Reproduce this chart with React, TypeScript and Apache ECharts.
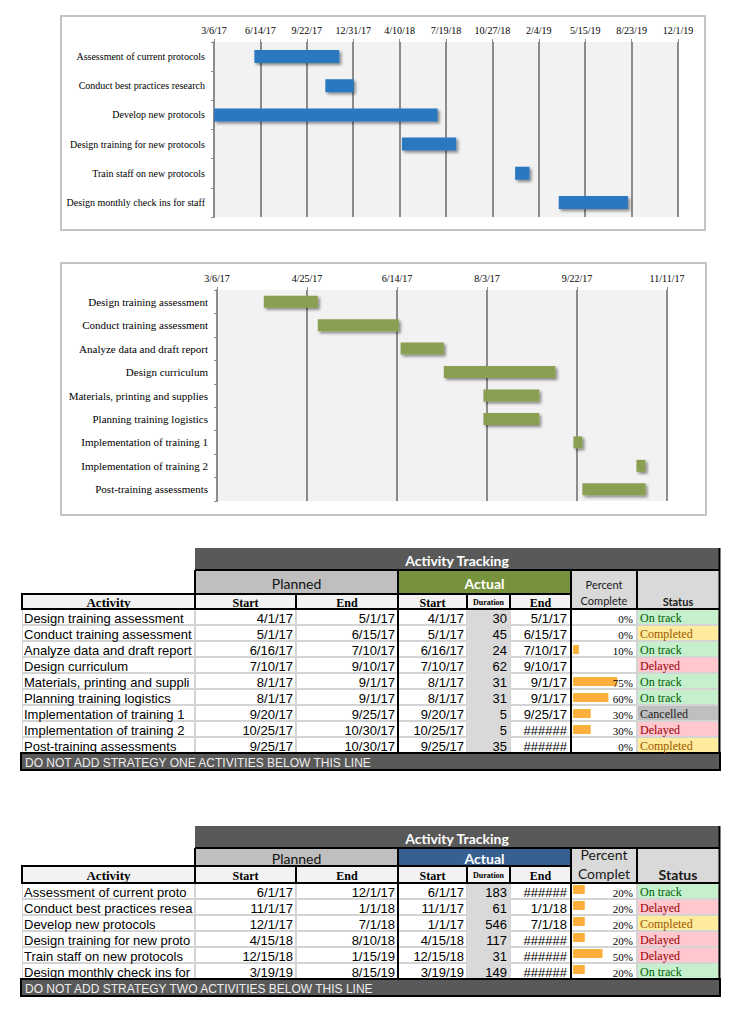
import React, { useEffect, useRef } from "react";
import * as echarts from "echarts";

// ---------- Strategy one (green chart, first table) ----------
const s1Activities = [
  "Design training assessment",
  "Conduct training assessment",
  "Analyze data and draft report",
  "Design curriculum",
  "Materials, printing and supplies",
  "Planning training logistics",
  "Implementation of training 1",
  "Implementation of training 2",
  "Post-training assessments",
];
const s1PlannedStart = ["4/1/17", "5/1/17", "6/16/17", "7/10/17", "8/1/17", "8/1/17", "9/20/17", "10/25/17", "9/25/17"];
const s1PlannedEnd = ["5/1/17", "6/15/17", "7/10/17", "9/10/17", "9/1/17", "9/1/17", "9/25/17", "10/30/17", "10/30/17"];
const s1ActualStart = ["4/1/17", "5/1/17", "6/16/17", "7/10/17", "8/1/17", "8/1/17", "9/20/17", "10/25/17", "9/25/17"];
const s1Duration = [30, 45, 24, 62, 31, 31, 5, 5, 35];
const s1ActualEnd = ["5/1/17", "6/15/17", "7/10/17", "9/10/17", "9/1/17", "9/1/17", "9/25/17", "######", "######"];
const s1Percent: (number | null)[] = [0, 0, 10, null, 75, 60, 30, 30, 0];
const s1Status = ["On track", "Completed", "On track", "Delayed", "On track", "On track", "Cancelled", "Delayed", "Completed"];

// ---------- Strategy two (blue chart, second table) ----------
const s2Activities = [
  "Assessment of current protocols",
  "Conduct best practices research",
  "Develop new protocols",
  "Design training for new protocols",
  "Train staff on new protocols",
  "Design monthly check ins for staff",
];
const s2PlannedStart = ["6/1/17", "11/1/17", "12/1/17", "4/15/18", "12/15/18", "3/19/19"];
const s2PlannedEnd = ["12/1/17", "1/1/18", "7/1/18", "8/10/18", "1/15/19", "8/15/19"];
const s2ActualStart = ["6/1/17", "11/1/17", "1/1/17", "4/15/18", "12/15/18", "3/19/19"];
const s2Duration = [183, 61, 546, 117, 31, 149];
const s2ActualEnd = ["######", "1/1/18", "7/1/18", "######", "######", "######"];
const s2Percent: (number | null)[] = [20, 20, 20, 20, 50, 20];
const s2Status = ["On track", "Delayed", "Completed", "Delayed", "Delayed", "On track"];

// axis ranges (Excel date serials)
const chart1Min = 42800; // 3/6/17
const chart1Max = 43800; // 12/1/19
const chart1Interval = 100;
const chart2Min = 42800; // 3/6/17
const chart2Max = 43050; // 11/11/17
const chart2Interval = 50;

const EPOCH = Date.UTC(1899, 11, 30);
const toSerial = (s: string) => {
  const [m, d, y] = s.split("/").map(Number);
  return (Date.UTC(2000 + y, m - 1, d) - EPOCH) / 86400000;
};
const fmtSerial = (v: number) => {
  const dt = new Date(EPOCH + Math.round(v) * 86400000);
  return `${dt.getUTCMonth() + 1}/${dt.getUTCDate()}/${dt.getUTCFullYear() % 100}`;
};

const STATUS_STYLE: Record<string, { bg: string; fg: string }> = {
  "On track": { bg: "#c6efce", fg: "#006100" },
  Completed: { bg: "#ffeb9c", fg: "#9c5700" },
  Delayed: { bg: "#ffc7ce", fg: "#9c0006" },
  Cancelled: { bg: "#bfbfbf", fg: "#1a1a1a" },
};

const COLS = [22, 195, 296, 398, 467, 510, 571, 637, 719];
const SANS = "Liberation Sans";
const SERIF = "Liberation Serif";
const HEAD = "Lato";

const R = (x: number, y: number, w: number, h: number, fill: string, stroke?: string, lw?: number, z = 1) => ({
  type: "rect",
  z,
  shape: { x, y, width: w, height: h },
  style: { fill, stroke: stroke || null, lineWidth: lw || 0 },
  silent: true,
});
const L = (x1: number, y1: number, x2: number, y2: number, color: string, w: number, z = 5) => ({
  type: "line",
  z,
  shape: { x1, y1, x2, y2 },
  style: { stroke: color, lineWidth: w },
  silent: true,
});
const T = (x: number, y: number, text: string, o: any = {}) => ({
  type: "text",
  z: 10,
  x,
  y,
  style: {
    text,
    fill: o.fill || "#000",
    fontSize: o.size || 12,
    fontFamily: o.family || SANS,
    fontWeight: o.weight || "normal",
    align: o.align || "left",
    verticalAlign: "middle",
    ...(o.width ? { width: o.width, overflow: "truncate", ellipsis: "" } : {}),
  },
  silent: true,
});

type TableSpec = {
  top: number;
  bandH: number;
  row2H: number;
  headH: number;
  rowH: number;
  footH: number;
  actualColor: string;
  names: string[];
  pStart: string[];
  pEnd: string[];
  aStart: string[];
  dur: number[];
  aEnd: string[];
  pct: (number | null)[];
  status: string[];
  footer: string;
  pctLines: [string, string];
  pctSize: number;
  pctY: [number, number];
  statusSize: number;
  barOffset: number;
};

function buildTable(t: TableSpec) {
  const els: any[] = [];
  const yBand = t.top;
  const yRow2 = yBand + t.bandH;
  const yHead = yRow2 + t.row2H;
  const yData = yHead + t.headH;
  const n = t.names.length;
  const yFoot = yData + n * t.rowH;

  // top band
  els.push(R(195, yBand, 525, t.bandH, "#595959"));
  els.push(T(457, yBand + t.bandH / 2 + 1, "Activity Tracking", { fill: "#fff", size: 14, family: HEAD, weight: "bold", align: "center" }));
  // planned / actual
  els.push(R(195, yRow2, 203, t.row2H, "#bfbfbf"));
  els.push(T(296.5, yRow2 + t.row2H / 2 + 1, "Planned", { fill: "#111", size: 14, family: HEAD, align: "center" }));
  els.push(R(398, yRow2, 173, t.row2H, t.actualColor));
  els.push(T(484.5, yRow2 + t.row2H / 2 + 1, "Actual", { fill: "#fff", size: 14, family: HEAD, weight: "bold", align: "center" }));
  // percent complete & status headers
  els.push(R(571, yRow2, 66, t.row2H + t.headH, "#d9d9d9"));
  els.push(T(604, t.pctY[0], t.pctLines[0], { fill: "#1a1a1a", size: t.pctSize, family: HEAD, align: "center" }));
  els.push(T(604, t.pctY[1], t.pctLines[1], { fill: "#1a1a1a", size: t.pctSize, family: HEAD, align: "center" }));
  els.push(R(637, yRow2, 82, t.row2H + t.headH, "#d9d9d9"));
  els.push(T(678, yHead + t.headH / 2, "Status", { fill: "#1a1a1a", size: t.statusSize, family: HEAD, weight: "bold", align: "center" }));

  // header row
  const headLabels = ["Activity", "Start", "End", "Start", "Duration", "End"];
  const headSizes = [13, 12, 12, 12, 8, 12];
  for (let c = 0; c < 6; c++) {
    els.push(R(COLS[c], yHead, COLS[c + 1] - COLS[c], t.headH, "#f2f2f2", "#000", 2, 2));
    els.push(
      T((COLS[c] + COLS[c + 1]) / 2, yHead + t.headH / 2 + 1, headLabels[c], {
        size: headSizes[c],
        family: SERIF,
        weight: "bold",
        align: "center",
      })
    );
  }

  // data rows
  els.push(R(22, yData, 697, n * t.rowH, "#d4d4d4"));
  for (let r = 0; r < n; r++) {
    const y0 = yData + r * t.rowH;
    const mid = y0 + t.rowH / 2 + 1;
    const st = STATUS_STYLE[t.status[r]];
    for (let c = 0; c < 8; c++) {
      const w = COLS[c + 1] - COLS[c];
      let fill = "#ffffff";
      if (c === 4) fill = "#d9d9d9";
      if (c === 7) fill = st.bg;
      if (c === 4) els.push(R(COLS[c], y0, w, t.rowH, fill));
      else els.push(R(COLS[c] + 1, y0 + 1, w - 2, t.rowH - 2, fill));
    }
    els.push(T(24, mid, t.names[r], { size: 13, width: 170 }));
    els.push(T(293, mid, t.pStart[r], { size: 13, align: "right" }));
    els.push(T(395, mid, t.pEnd[r], { size: 13, align: "right" }));
    els.push(T(464, mid, t.aStart[r], { size: 13, align: "right" }));
    els.push(T(507, mid, String(t.dur[r]), { size: 13, align: "right" }));
    els.push(T(567, mid, t.aEnd[r], { size: 13, align: "right" }));
    const p = t.pct[r];
    if (p !== null) {
      if (p > 0) els.push(R(573, y0 + t.barOffset, p * 0.59, 9, "#fbb03b", undefined, 0, 3));
      els.push(T(633, mid + 1, `${p}%`, { size: 11, family: SERIF, align: "right" }));
    }
    els.push(T(640, mid, t.status[r], { size: 12, family: SERIF, fill: st.fg }));
  }

  // black rules
  els.push(L(195, yRow2, 719, yRow2, "#000", 2));
  els.push(L(195, yRow2, 195, yHead, "#000", 2));
  els.push(L(22, yData, 719, yData, "#000", 2));
  els.push(L(398, yRow2, 398, yFoot, "#000", 2));
  els.push(L(571, yRow2, 571, yFoot, "#000", 2));
  els.push(L(637, yRow2, 637, yData, "#000", 2));
  els.push(L(719.5, yBand, 719.5, yFoot, "#000", 2));

  // footer
  els.push(R(21, yFoot, 699, t.footH, "#595959", "#000", 2, 6));
  els.push(T(25, yFoot + t.footH / 2 + 1, t.footer, { fill: "#eeeeee", size: 12 }));
  return els;
}

function frame(x: number, y: number, w: number, h: number) {
  return { type: "rect", z: 0, shape: { x, y, width: w, height: h }, style: { fill: "none", stroke: "#c4c4c4", lineWidth: 2 }, silent: true };
}

export default function App() {
  const ref = useRef<HTMLDivElement>(null);
  useEffect(() => {
    if (!ref.current) return;
    const chart = echarts.init(ref.current, undefined, { renderer: "svg" });
    const gridLine = { color: "#8c8c8c", width: 2 };
    const xLabel = { formatter: (v: number) => fmtSerial(v), fontFamily: SERIF, fontSize: 10, color: "#000", margin: 7 };
    const shadow = { shadowColor: "rgba(0,0,0,0.45)", shadowBlur: 3, shadowOffsetX: 2, shadowOffsetY: 2 };

    const table1 = buildTable({
      top: 548,
      bandH: 22,
      row2H: 24,
      headH: 15,
      rowH: 16,
      footH: 17,
      actualColor: "#76923c",
      names: s1Activities,
      pStart: s1PlannedStart,
      pEnd: s1PlannedEnd,
      aStart: s1ActualStart,
      dur: s1Duration,
      aEnd: s1ActualEnd,
      pct: s1Percent,
      status: s1Status,
      footer: "DO NOT ADD STRATEGY ONE ACTIVITIES BELOW THIS LINE",
      pctLines: ["Percent", "Complete"],
      pctSize: 11,
      pctY: [584, 600],
      statusSize: 11,
      barOffset: 4,
    });
    const table2 = buildTable({
      top: 826,
      bandH: 22,
      row2H: 18,
      headH: 17,
      rowH: 16,
      footH: 17,
      actualColor: "#376092",
      names: s2Activities,
      pStart: s2PlannedStart,
      pEnd: s2PlannedEnd,
      aStart: s2ActualStart,
      dur: s2Duration,
      aEnd: s2ActualEnd,
      pct: s2Percent,
      status: s2Status,
      footer: "DO NOT ADD STRATEGY TWO ACTIVITIES BELOW THIS LINE",
      pctLines: ["Percent", "Complet"],
      pctSize: 14,
      pctY: [854, 873],
      statusSize: 14,
      barOffset: 2,
    });

    chart.setOption({
      animation: false,
      backgroundColor: "#ffffff",
      grid: [
        { left: 214, top: 42, width: 464, height: 175, show: true, backgroundColor: "#f2f2f2", borderWidth: 0 },
        { left: 217, top: 290, width: 450, height: 211, show: true, backgroundColor: "#f2f2f2", borderWidth: 0 },
      ],
      xAxis: [
        {
          gridIndex: 0,
          type: "value",
          position: "top",
          min: chart1Min,
          max: chart1Max,
          interval: chart1Interval,
          axisLine: { show: false },
          axisTick: { show: true, length: 3, lineStyle: { color: "#8c8c8c", width: 1 } },
          axisLabel: xLabel,
          splitLine: { show: true, lineStyle: gridLine },
        },
        {
          gridIndex: 1,
          type: "value",
          position: "top",
          min: chart2Min,
          max: chart2Max,
          interval: chart2Interval,
          axisLine: { show: false },
          axisTick: { show: true, length: 3, lineStyle: { color: "#8c8c8c", width: 1 } },
          axisLabel: xLabel,
          splitLine: { show: true, lineStyle: gridLine },
        },
      ],
      yAxis: [
        {
          gridIndex: 0,
          type: "category",
          inverse: true,
          data: s2Activities,
          axisLine: { show: true, lineStyle: gridLine },
          axisTick: { show: true, length: 3, lineStyle: { color: "#8c8c8c", width: 1 } },
          axisLabel: { fontFamily: SERIF, fontSize: 10, color: "#000", margin: 9 },
        },
        {
          gridIndex: 1,
          type: "category",
          inverse: true,
          data: s1Activities,
          axisLine: { show: true, lineStyle: gridLine },
          axisTick: { show: true, length: 3, lineStyle: { color: "#8c8c8c", width: 1 } },
          axisLabel: { fontFamily: SERIF, fontSize: 11, color: "#000", margin: 9 },
        },
      ],
      series: [
        {
          type: "bar",
          xAxisIndex: 0,
          yAxisIndex: 0,
          stack: "s2",
          barWidth: 13,
          silent: true,
          itemStyle: { color: "rgba(0,0,0,0)" },
          data: s2ActualStart.map(toSerial),
        },
        {
          type: "bar",
          xAxisIndex: 0,
          yAxisIndex: 0,
          stack: "s2",
          barWidth: 13,
          itemStyle: { color: "#2b78bf", ...shadow },
          data: s2Duration,
        },
        {
          type: "bar",
          xAxisIndex: 1,
          yAxisIndex: 1,
          stack: "s1",
          barWidth: 12,
          silent: true,
          itemStyle: { color: "rgba(0,0,0,0)" },
          data: s1ActualStart.map(toSerial),
        },
        {
          type: "bar",
          xAxisIndex: 1,
          yAxisIndex: 1,
          stack: "s1",
          barWidth: 12,
          itemStyle: { color: "#8b9f52", ...shadow },
          data: s1Duration,
        },
      ],
      graphic: [frame(61, 16, 644, 214), frame(61, 263, 645, 252), ...table1, ...table2],
    });
    return () => chart.dispose();
  }, []);
  return <div ref={ref} style={{ position: "absolute", left: 0, top: 0, width: 744, height: 1024 }} />;
}
